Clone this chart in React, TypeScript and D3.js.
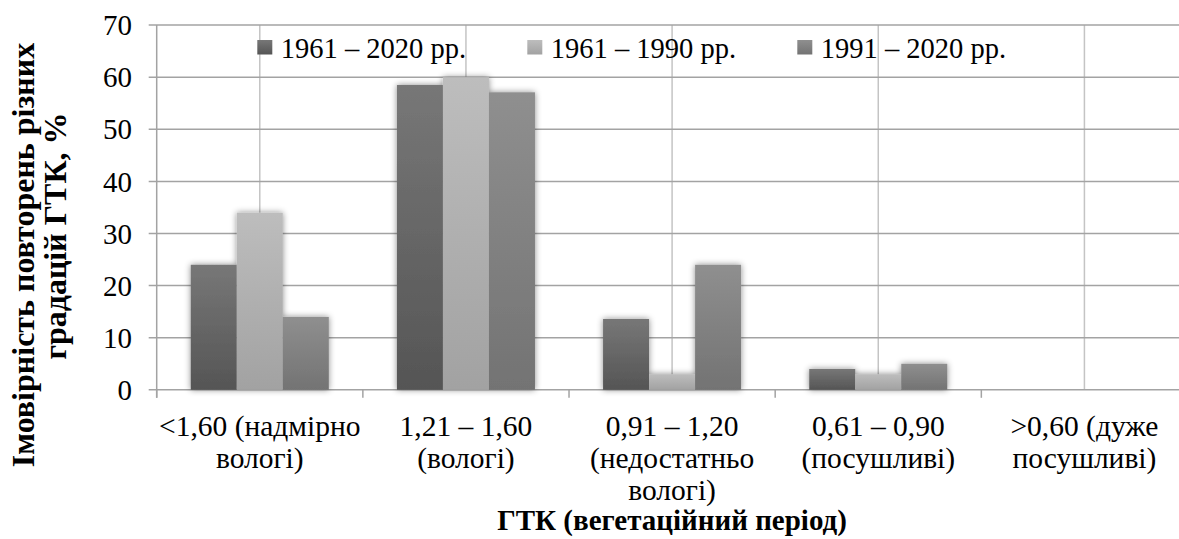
import React from "react";
import * as d3 from "d3";

const categories: string[][] = [
  ["<1,60 (надмірно", "вологі)"],
  ["1,21 – 1,60", "(вологі)"],
  ["0,91 – 1,20", "(недостатньо", "вологі)"],
  ["0,61 – 0,90", "(посушливі)"],
  [">0,60 (дуже", "посушливі)"],
];
const seriesNames = ["1961 – 2020 рр.", "1961 – 1990 рр.", "1991 – 2020 рр."];
const s1961_2020 = [24, 58.5, 13.6, 4, 0];
const s1961_1990 = [34, 60, 3, 3, 0];
const s1991_2020 = [14, 57.1, 24, 5, 0];
const seriesValues = [s1961_2020, s1961_1990, s1991_2020];
const yTicks = [0, 10, 20, 30, 40, 50, 60, 70];
const yTitle = ["Імовірність повторень різних", "градацій ГТК, %"];
const xTitle = "ГТК (вегетаційний період)";

const gradStops = [
  ["#777777", "#555555"],
  ["#bdbdbd", "#a2a2a2"],
  ["#8f8f8f", "#737373"],
];

const W = 1179;
const H = 539;
const left = 156.7;
const right = 1187.5;
const top = 25.1;
const bottom = 389.8;
const FONT = "'Liberation Serif', 'Times New Roman', serif";
const fs = (size: number) => ({ fontFamily: FONT, fontSize: size });
const yTitleCenters = [255, 236];

export default function App() {
  const catIdx = categories.map((_, i) => String(i));
  const x = d3.scaleBand<string>().domain(catIdx).range([left, right]).paddingInner(0).paddingOuter(0);
  const xs = d3
    .scaleBand<string>()
    .domain(seriesNames)
    .range([0, x.bandwidth()])
    .paddingInner(0)
    .paddingOuter(0.74);
  const y = d3.scaleLinear().domain([0, 70]).range([bottom, top]);

  const boundaries = d3.range(categories.length + 1).map((i) => left + i * x.step());

  return (
    <svg width={W} height={H} style={{ position: "absolute", left: 0, top: 0, background: "#fff" }}>
      <defs>
        {gradStops.map((g, i) => (
          <linearGradient key={i} id={`g${i}`} x1="0" y1="0" x2="0" y2="1">
            <stop offset="0" stopColor={g[0]} />
            <stop offset="1" stopColor={g[1]} />
          </linearGradient>
        ))}
        <filter id="sh" x="-30%" y="-30%" width="160%" height="160%">
          <feDropShadow dx="0" dy="0" stdDeviation="3" floodColor="#000" floodOpacity="0.45" />
        </filter>
      </defs>
      <rect x={0} y={0} width={W} height={H} fill="#fff" />
      {catIdx.map((c) => (
        <line
          key={"v" + c}
          x1={x(c)! + x.bandwidth() / 2}
          x2={x(c)! + x.bandwidth() / 2}
          y1={top}
          y2={bottom}
          stroke="#c4c4c4"
          strokeWidth={1.5}
        />
      ))}
      {yTicks.map((t) => (
        <line key={"h" + t} x1={left - 8} x2={right} y1={y(t)} y2={y(t)} stroke="#a3a3a3" strokeWidth={1.5} />
      ))}
      <line x1={left} x2={left} y1={top} y2={bottom + 8} stroke="#a3a3a3" strokeWidth={1.5} />
      {boundaries.map((b, i) => (
        <line key={"t" + i} x1={b} x2={b} y1={bottom} y2={bottom + 8} stroke="#a3a3a3" strokeWidth={1.5} />
      ))}
      <g filter="url(#sh)">
        {seriesValues.map((vals, si) =>
          vals.map((v, ci) =>
            v > 0 ? (
              <rect
                key={`b${si}-${ci}`}
                x={x(String(ci))! + xs(seriesNames[si])!}
                y={y(v)}
                width={xs.bandwidth()}
                height={y(0) - y(v)}
                fill={`url(#g${si})`}
              />
            ) : null
          )
        )}
      </g>
      {yTicks.map((t) => (
        <text key={"yl" + t} x={132} y={y(t)} dy="0.35em" textAnchor="end" style={fs(29)} fill="#000">
          {t}
        </text>
      ))}
      {categories.map((lines, ci) => (
        <text
          key={"cl" + ci}
          x={x(String(ci))! + x.bandwidth() / 2}
          y={436}
          textAnchor="middle"
          style={fs(29.5)}
          fill="#000"
        >
          {lines.map((l, li) => (
            <tspan key={li} x={x(String(ci))! + x.bandwidth() / 2} y={436 + li * 32}>
              {l}
            </tspan>
          ))}
        </text>
      ))}
      {seriesNames.map((n, i) => (
        <g key={"lg" + i} transform={`translate(${257.3 + i * 270},0)`}>
          <rect x={0} y={40} width={15} height={14.5} fill={`url(#g${i})`} />
          <text x={23.5} y={57.5} style={fs(28.5)} fill="#000">
            {n}
          </text>
        </g>
      ))}
      <text
        x={(left + right) / 2}
        y={530}
        textAnchor="middle"
        style={{ ...fs(29), fontWeight: "bold" }}
        fill="#000"
      >
        {xTitle}
      </text>
      {yTitle.map((l, i) => (
        <text
          key={"yt" + i}
          transform={`translate(${33.5 + i * 32.5},${yTitleCenters[i]}) rotate(-90)`}
          textAnchor="middle"
          style={{ ...fs(32), fontWeight: "bold" }}
          fill="#000"
        >
          {l}
        </text>
      ))}
    </svg>
  );
}
